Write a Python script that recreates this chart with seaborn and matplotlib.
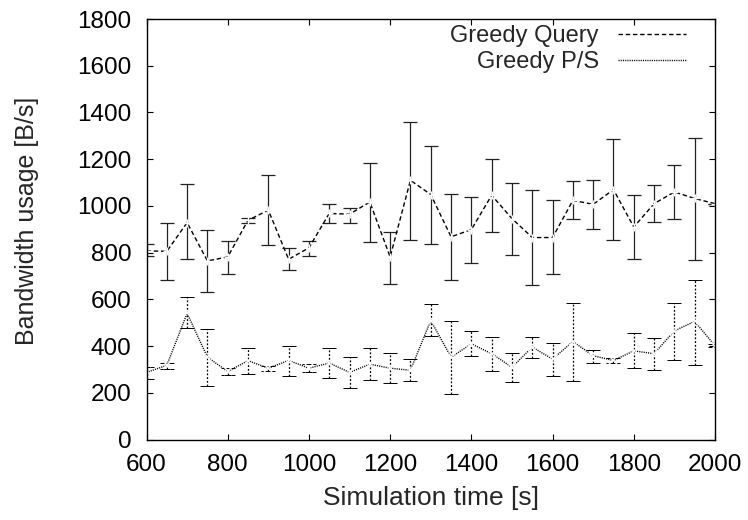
import matplotlib
matplotlib.use("Agg")
import matplotlib.pyplot as plt
from matplotlib.lines import Line2D
import seaborn as sns

# data
times = [600, 650, 700, 750, 800, 850, 900, 950, 1000, 1050, 1100, 1150, 1200, 1250,
         1300, 1350, 1400, 1450, 1500, 1550, 1600, 1650, 1700, 1750, 1800, 1850,
         1900, 1950, 2000]

query_mean = [808, 806, 929, 765, 782, 939, 982, 772, 821, 968, 965, 1017, 782, 1110,
              1049, 868, 899, 1046, 946, 865, 865, 1024, 1007, 1070, 910, 1010,
              1060, 1032, 1010]
query_lo = [785, 682, 772, 632, 711, 929, 832, 725, 786, 927, 927, 846, 668, 856,
            839, 682, 754, 889, 789, 661, 708, 943, 900, 856, 772, 930,
            943, 771, 1010]
query_hi = [839, 929, 1093, 896, 850, 949, 1134, 820, 850, 1010, 991, 1185, 889, 1359,
            1256, 1053, 1038, 1200, 1098, 1067, 1027, 1106, 1110, 1285, 1046, 1091,
            1177, 1291, 1010]

ps_mean = [288, 318, 541, 353, 292, 338, 306, 339, 306, 328, 288, 323, 306, 297,
           510, 353, 410, 368, 310, 396, 345, 420, 359, 339, 380, 368,
           466, 506, 402]
ps_lo = [261, 303, 477, 231, 278, 282, 295, 274, 288, 264, 221, 256, 242, 252,
         444, 195, 356, 292, 249, 349, 271, 253, 330, 330, 306, 299,
         342, 321, 395]
ps_hi = [313, 330, 612, 473, 306, 394, 316, 403, 325, 392, 353, 392, 373, 345,
         580, 510, 467, 439, 372, 439, 413, 587, 382, 350, 456, 435,
         587, 684, 410]

sns.set_theme(style="ticks")
plt.rcParams["font.family"] = ["Liberation Sans", "DejaVu Sans"]
plt.rcParams["font.size"] = 17

fig = plt.figure(figsize=(7.48, 5.2), dpi=100)
ax = fig.add_axes([146.5 / 748, 1 - 439.7 / 520, (715 - 146.5) / 748, (439.7 - 19) / 520])

dash_q = (0, (3.2, 2.0))
dot_ps = (0, (0.8, 0.8))

# barras de error
ax.errorbar(times, query_mean,
            yerr=[[m - l for m, l in zip(query_mean, query_lo)],
                  [h - m for m, h in zip(query_mean, query_hi)]],
            fmt="none", ecolor="#222222", elinewidth=0.9, capsize=5, capthick=0.9)
eb = ax.errorbar(times, ps_mean,
                 yerr=[[m - l for m, l in zip(ps_mean, ps_lo)],
                       [h - m for m, h in zip(ps_mean, ps_hi)]],
                 fmt="none", ecolor="black", elinewidth=0.9, capsize=5, capthick=0.7)
for col in eb[2]:
    col.set_linestyle((0, (1.5, 1.5)))
for cap in eb[1]:
    cap.set_color("#555555")

# lineas con marcadores
sns.lineplot(x=times, y=query_mean, ax=ax, color="black", linewidth=1.0,
             linestyle=dash_q, marker="+", markersize=6, markeredgewidth=1.0)
sns.lineplot(x=times, y=ps_mean, ax=ax, color="black", linewidth=1.0,
             linestyle=dot_ps, marker="x", markersize=6, markeredgewidth=1.1)

ax.set_xlim(600, 2000)
ax.set_ylim(0, 1800)
ax.set_xticks([600, 800, 1000, 1200, 1400, 1600, 1800, 2000])
ax.set_yticks(range(0, 1801, 200))
ax.tick_params(direction="in", top=True, right=True, length=4, width=0.8,
               labelsize=17.5, colors="black")
ax.tick_params(axis="x", pad=10)
ax.tick_params(axis="y", pad=11)
for s in ax.spines.values():
    s.set_linewidth(1.0)
    s.set_color("black")
    s.set_visible(True)

ax.set_xlabel("Simulation time [s]", fontsize=19)
ax.set_ylabel("Bandwidth usage [B/s]", fontsize=18)
ax.xaxis.set_label_coords(0.5, -0.1386)
ax.xaxis.label.set_va("center")
ax.yaxis.set_label_coords(-0.211, 0.52)
ax.yaxis.label.set_va("center")

handles = [Line2D([], [], color="black", linewidth=1.0, linestyle=dash_q),
           Line2D([], [], color="black", linewidth=1.0, linestyle=dot_ps)]
ax.legend(handles, ["Greedy Query", "Greedy P/S"], loc="upper right",
          bbox_to_anchor=(686 / 748, 1 - 25 / 520), bbox_transform=fig.transFigure,
          frameon=False, markerfirst=False, handlelength=2.9, handletextpad=0.8,
          labelspacing=0.17, borderpad=0, borderaxespad=0, fontsize=17)

fig.savefig("out.png", dpi=100)
